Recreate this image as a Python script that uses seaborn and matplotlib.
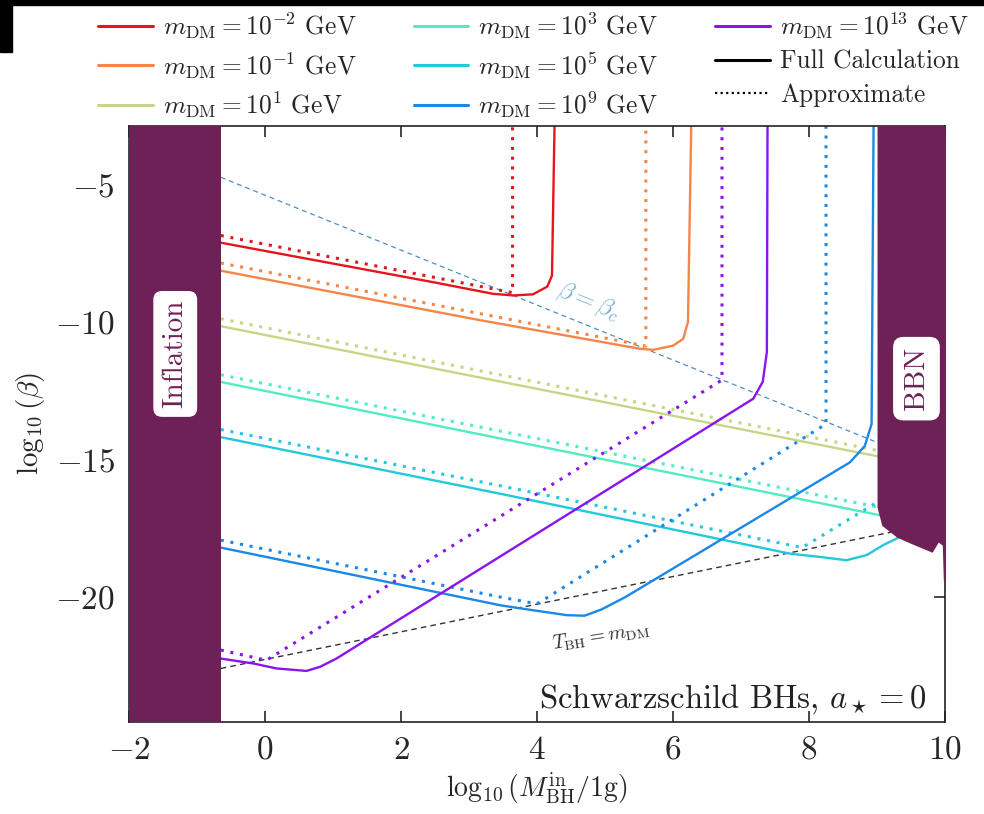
import numpy as np
import pandas as pd
import matplotlib
matplotlib.use("Agg")
import matplotlib.pyplot as plt
from matplotlib.lines import Line2D
from matplotlib.patches import Rectangle
import seaborn as sns

# ---- data (x = log10(M/1g), y = log10(beta)) ----
X_INFL = -0.65
X_BBN = 9.0
Y_TOP = -2.5  # vertical branches run off the top of the axes

masses = ["10^{-2}", "10^{-1}", "10^{1}", "10^{3}", "10^{5}", "10^{9}", "10^{13}"]
colors = ["#e8141c", "#f4864a", "#c8d486", "#52ecc2", "#20c9dc", "#1b88e6", "#8a14ef"]

full_x = [
    [-0.65, 1.0, 2.5, 3.35, 3.65, 3.94, 4.15, 4.22, 4.26],
    [-0.65, 3.16, 5.51, 5.71, 6.0, 6.15, 6.22, 6.27],
    [-0.65, 9.2],
    [-0.65, 9.2],
    [-0.65, 3.46, 7.72, 8.16, 8.55, 8.85, 9.09, 9.29, 9.45],
    [-0.65, 3.46, 3.94, 4.44, 4.7, 4.95, 5.3, 8.6, 8.82, 8.92, 8.95],
    [-0.65, -0.17, 0.17, 0.61, 0.81, 1.05, 7.18, 7.32, 7.38, 7.39],
]
full_y = [
    [-7.1, -7.86, -8.55, -8.96, -9.02, -8.98, -8.7, -8.3, Y_TOP],
    [-8.12, -9.92, -10.96, -11.0, -10.85, -10.6, -9.98, Y_TOP],
    [-10.14, -14.97],
    [-12.17, -17.1],
    [-14.18, -16.24, -18.42, -18.54, -18.66, -18.47, -18.11, -17.87, -17.6],
    [-18.2, -20.3, -20.48, -20.66, -20.68, -20.45, -20.0, -15.1, -14.5, -13.7, Y_TOP],
    [-22.24, -22.42, -22.6, -22.69, -22.54, -22.24, -12.78, -12.16, -11.08, Y_TOP],
]
approx_x = [
    [-0.65, 3.64, 3.64],
    [-0.65, 5.6, 5.6],
    [-0.65, 9.2],
    [-0.65, 9.2],
    [-0.65, 3.46, 7.9, 9.1],
    [-0.65, 3.46, 4.0, 8.25, 8.25],
    [-0.65, 0.02, 6.72, 6.72],
]
approx_y = [
    [-6.84, -8.92, Y_TOP],
    [-7.84, -10.86, Y_TOP],
    [-9.87, -14.76],
    [-11.91, -16.82],
    [-13.9, -15.95, -18.2, -16.4],
    [-17.93, -20.0, -20.25, -13.7, Y_TOP],
    [-21.93, -22.3, -12.1, Y_TOP],
]

beta_c_x = [-0.65, 10.0]
beta_c_y = [-4.72, -15.37]
tbh_x = [-0.65, 10.0]
tbh_y = [-22.6, -17.24]

bbn_x = [9.0, 9.07, 9.29, 9.49, 9.81, 9.9, 9.96, 9.975, 10.0]
bbn_y = [-16.73, -17.39, -17.82, -18.04, -18.37, -18.0, -18.11, -19.39, -19.39]

REGION = "#6e2157"

sns.set_style("ticks")
plt.rcParams["font.family"] = "serif"
plt.rcParams["font.serif"] = ["cmr10", "DejaVu Serif"]
plt.rcParams["mathtext.fontset"] = "cm"
plt.rcParams["axes.formatter.use_mathtext"] = True
plt.rcParams["axes.unicode_minus"] = True

fig = plt.figure(figsize=(9.84, 8.14), dpi=100)
ax = fig.add_axes([0.1311, 0.1130, 0.8293, 0.7326])

for i in range(len(masses)):
    df_f = pd.DataFrame({"x": full_x[i], "y": full_y[i]})
    df_a = pd.DataFrame({"x": approx_x[i], "y": approx_y[i]})
    sns.lineplot(data=df_f, x="x", y="y", sort=False, estimator=None,
                 color=colors[i], lw=1.7, ax=ax, zorder=2)
    sns.lineplot(data=df_a, x="x", y="y", sort=False, estimator=None,
                 color=colors[i], lw=2.2, linestyle=(0, (1, 2.2)), ax=ax, zorder=2)

ax.plot(beta_c_x, beta_c_y, color="#4f8fbf", lw=0.9, ls=(0, (4, 3)), zorder=1.5)
ax.plot(tbh_x, tbh_y, color="#333333", lw=1.0, ls=(0, (4, 3)), zorder=1.5)

# excluded regions drawn over the frame, like the original
ax.axvspan(-2, X_INFL, color=REGION, lw=0, zorder=3)
ax.fill_between(bbn_x, bbn_y, 0, color=REGION, lw=0, zorder=3)

ax.text(-1.32, -11.15, "Inflation", rotation=90, ha="center", va="center",
        fontsize=21, color=REGION, zorder=4,
        bbox=dict(boxstyle="round,pad=0.3", fc="white", ec="none"))
ax.text(9.58, -12.05, "BBN", rotation=90, ha="center", va="center",
        fontsize=21, color=REGION, zorder=4,
        bbox=dict(boxstyle="round,pad=0.35", fc="white", ec="none"))

ax.text(4.75, -9.25, r"$\beta = \beta_c$", rotation=-22, ha="center", va="center",
        fontsize=18, color="#7fb0d2")
ax.text(4.95, -21.45, r"$T_{\rm BH} = m_{\rm DM}$", rotation=9, ha="center", va="center",
        fontsize=14.5, color="#333333")
ax.text(0.978, 0.025, r"Schwarzschild BHs, $a_\star = 0$", transform=ax.transAxes,
        ha="right", va="baseline", fontsize=23.5, color="#222222", zorder=5)

ax.set_xlim(-2, 10)
ax.set_ylim(-24.55, -2.84)
ax.set_xticks([-2, 0, 2, 4, 6, 8, 10])
ax.set_yticks([-5, -10, -15, -20])
ax.tick_params(direction="in", length=8, width=1.2, top=True, right=True,
               labelsize=24, pad=10)
for s in ax.spines.values():
    s.set_linewidth(1.2)
    s.set_color("#222222")
ax.set_xlabel(r"$\log_{10}(M_{\rm BH}^{\rm in}/1{\rm g})$", fontsize=20, labelpad=4)
ax.set_ylabel(r"$\log_{10}(\beta)$", fontsize=21, labelpad=6)

handles = [Line2D([], [], color=c, lw=2.2) for c in colors]
labels = [rf"$m_{{\rm DM}} = {m}$ GeV" for m in masses]
handles += [Line2D([], [], color="black", lw=2.2),
            Line2D([], [], color="black", lw=1.6, ls=(0, (1, 1.5)))]
labels += ["Full Calculation", "Approximate"]
fig.legend(handles, labels, ncol=3, loc="upper center", bbox_to_anchor=(0.542, 1.0),
           frameon=False, fontsize=18.3, handlelength=2.15, handletextpad=0.4,
           columnspacing=2.25, labelspacing=0.36, borderaxespad=0.0)

# black screenshot border in the reference
fig.patches.append(Rectangle((0, 1 - 5 / 814), 1, 5 / 814, transform=fig.transFigure,
                             color="black", zorder=10))
fig.patches.append(Rectangle((0, 1 - 52 / 814), 12 / 984, 52 / 814,
                             transform=fig.transFigure, color="black", zorder=10))

fig.savefig("out.png", dpi=100)
